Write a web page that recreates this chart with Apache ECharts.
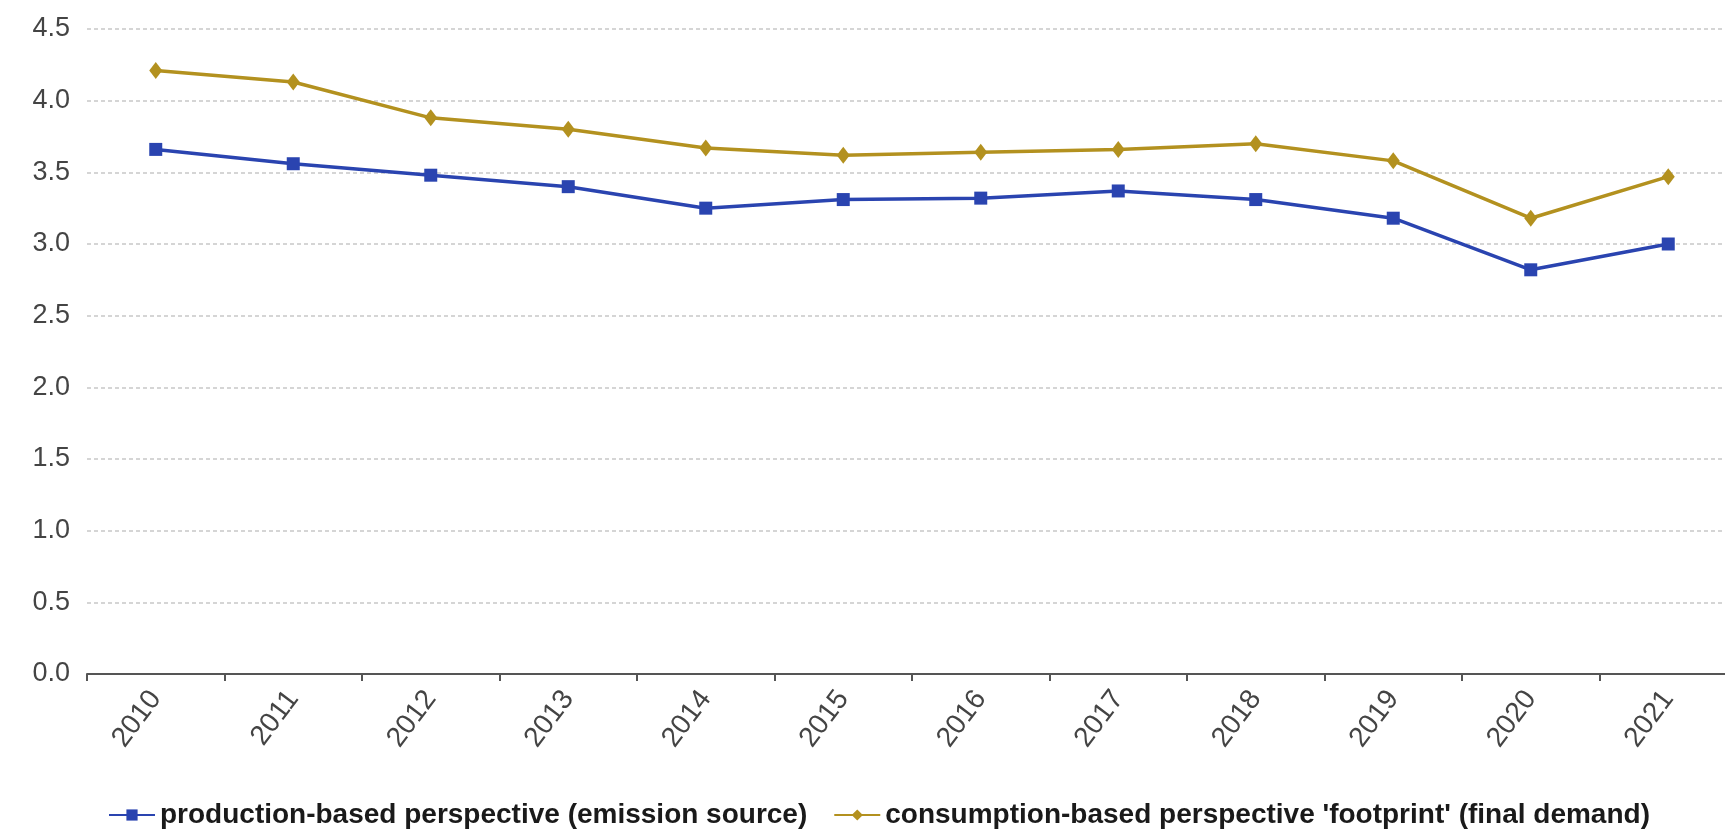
<!DOCTYPE html>
<html>
<head>
<meta charset="utf-8">
<script src="https://cdn.jsdelivr.net/npm/echarts@6/dist/echarts.min.js"></script>
<style>
html,body{margin:0;padding:0;background:#fff;overflow:hidden;}
#chart{width:1740px;height:830px;}
</style>
</head>
<body>
<div id="chart"></div>
<script>
const years = ['2010','2011','2012','2013','2014','2015','2016','2017','2018','2019','2020','2021'];
const production = [3.66, 3.56, 3.48, 3.40, 3.25, 3.31, 3.32, 3.37, 3.31, 3.18, 2.82, 3.00];
const consumption = [4.21, 4.13, 3.88, 3.80, 3.67, 3.62, 3.64, 3.66, 3.70, 3.58, 3.18, 3.47];
const seriesNames = ['production-based perspective (emission source)', "consumption-based perspective 'footprint' (final demand)"];

const chart = echarts.init(document.getElementById('chart'));
chart.setOption({
  animation: false,
  backgroundColor: '#fff',
  textStyle: {fontFamily: 'Liberation Sans, Arial, sans-serif'},
  grid: {left: 87, top: 29, right: 3, bottom: 156, containLabel: false},
  legend: {
    left: 103, top: 796,
    itemWidth: 46, itemHeight: 14, itemGap: 26,
    textStyle: {fontSize: 28, fontWeight: 'bold', color: '#1a1a1a', fontFamily: 'Liberation Sans, Arial, sans-serif'},
    data: seriesNames
  },
  xAxis: {
    type: 'category',
    data: years,
    boundaryGap: true,
    axisLine: {lineStyle: {color: '#555', width: 2}},
    axisTick: {show: true, length: 7, lineStyle: {color: '#555', width: 2}},
    axisLabel: {rotate: 53, fontSize: 28, color: '#444', margin: 20}
  },
  yAxis: {
    type: 'value',
    min: 0, max: 4.5, interval: 0.5,
    axisLine: {show: false},
    axisTick: {show: false},
    axisLabel: {fontSize: 27, color: '#444', margin: 17, formatter: v => v.toFixed(1)},
    splitLine: {lineStyle: {color: '#c8c8c8', width: 1.5, type: [4, 3]}}
  },
  series: [
    {
      name: seriesNames[0], type: 'line', data: production,
      symbol: 'rect', symbolSize: 13,
      lineStyle: {color: '#2a44b0', width: 3.5},
      itemStyle: {color: '#2a44b0'}
    },
    {
      name: seriesNames[1], type: 'line', data: consumption,
      symbol: 'diamond', symbolSize: [13, 17],
      lineStyle: {color: '#b3911f', width: 3.5},
      itemStyle: {color: '#b3911f'}
    }
  ]
});
</script>
</body>
</html>
